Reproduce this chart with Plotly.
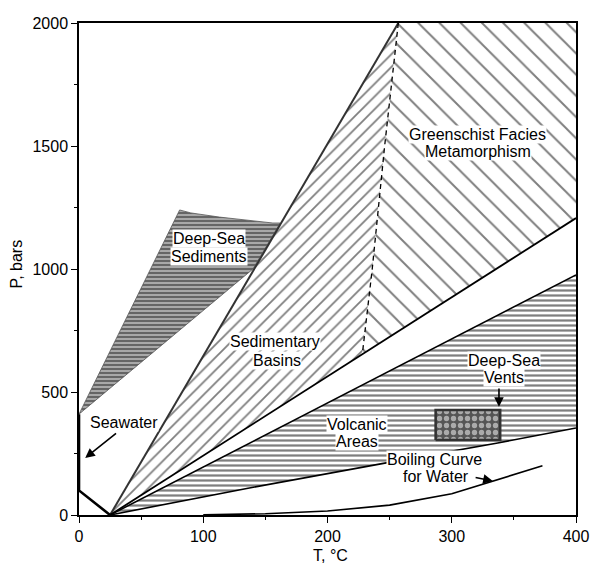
import plotly.graph_objects as go

# ---- data (T in degC, P in bars) ----
T_MAX, P_MAX = 400, 2000
x_ticks = [0, 100, 200, 300, 400]
y_ticks = [0, 500, 1000, 1500, 2000]

seawater_T = [0, 0, 25]
seawater_P = [410, 100, 0]

sed_left_T = [25, 257]
sed_left_P = [0, 2000]

sed_lower_T = [25, 400]
sed_lower_P = [0, 1207]

volc_upper_T = [25, 400]
volc_upper_P = [0, 976]

volc_lower_T = [25, 135, 245, 337, 400]
volc_lower_P = [0, 108, 210, 293, 354]

boil_T = [100, 150, 200, 250, 300, 350, 373]
boil_P = [1, 5, 16, 40, 86, 165, 200]

dashed_T = [257, 246, 236, 228]
dashed_P = [2000, 1500, 1000, 653]

sediments_T = [0, 81, 90, 113, 156, 162, 140]
sediments_P = [410, 1240, 1228, 1211, 1187, 1187, 1000]

vents_T = [287, 339]
vents_P = [305, 427]

labels = [
    ("Deep-Sea", 105, 1122), ("Sediments", 105, 1052),
    ("Greenschist Facies", 321, 1547), ("Metamorphism", 321, 1478),
    ("Sedimentary", 158, 704), ("Basins", 159, 630),
    ("Deep-Sea", 342, 630), ("Vents", 342, 557),
    ("Volcanic", 224, 367), ("Areas", 224, 297),
    ("Boiling Curve", 286, 224), ("for Water", 287, 155),
    ("Seawater", 36, 378),
]
# arrows: (tail T, tail P, tip T, tip P)
arrows = [
    (31, 337, 5, 232),
    (338, 520, 338, 440),
    (318, 154, 333, 138),
]

FONT = "Liberation Sans, Arial, Helvetica, sans-serif"

fig = go.Figure()

# deep-sea sediments (dark, horizontal hatch)
fig.add_trace(go.Scatter(
    x=sediments_T + [sediments_T[0]], y=sediments_P + [sediments_P[0]],
    fill="toself", mode="lines", line=dict(color="#555", width=0.8),
    fillpattern=dict(shape="-", fgcolor="#222", bgcolor="#a8a8a8", size=4, solidity=0.5),
    hoverinfo="skip", showlegend=False))

# sedimentary basins ("/" hatch)
sb_T = sed_left_T + dashed_T[1:] + [sed_lower_T[0]]
sb_P = sed_left_P + dashed_P[1:] + [sed_lower_P[0]]
fig.add_trace(go.Scatter(
    x=sb_T, y=sb_P, fill="toself", mode="none",
    fillpattern=dict(shape="/", fgcolor="black", bgcolor="white", size=9, solidity=0.2),
    hoverinfo="skip", showlegend=False))

# greenschist facies ("\" hatch)
gs_T = [dashed_T[0], T_MAX, T_MAX] + dashed_T[::-1]
gs_P = [P_MAX, P_MAX, sed_lower_P[1]] + dashed_P[::-1]
fig.add_trace(go.Scatter(
    x=gs_T, y=gs_P, fill="toself", mode="none",
    fillpattern=dict(shape="\\", fgcolor="black", bgcolor="white", size=15, solidity=0.13),
    hoverinfo="skip", showlegend=False))

# volcanic areas (horizontal hatch)
va_T = volc_upper_T + volc_lower_T[::-1]
va_P = volc_upper_P + volc_lower_P[::-1]
fig.add_trace(go.Scatter(
    x=va_T, y=va_P, fill="toself", mode="none",
    fillpattern=dict(shape="-", fgcolor="black", bgcolor="white", size=5, solidity=0.45),
    hoverinfo="skip", showlegend=False))

# boundary lines
def line(xs, ys, width=1.6, color="black", dash="solid"):
    fig.add_trace(go.Scatter(x=xs, y=ys, mode="lines",
                             line=dict(color=color, width=width, dash=dash),
                             hoverinfo="skip", showlegend=False))

line(sed_left_T, sed_left_P, width=2, color="#333")
line(sed_lower_T, sed_lower_P, width=1.8)
line(volc_upper_T, volc_upper_P, width=1.6)
line(volc_lower_T, volc_lower_P, width=1.6)
line(boil_T, boil_P, width=1.6)
line(dashed_T, dashed_P, width=1.3, dash="5px,4px")
line(seawater_T, seawater_P, width=2.6)

# deep-sea vents box
fig.add_trace(go.Scatter(
    x=[vents_T[0], vents_T[1], vents_T[1], vents_T[0], vents_T[0]],
    y=[vents_P[0], vents_P[0], vents_P[1], vents_P[1], vents_P[0]],
    fill="toself", mode="lines", line=dict(color="#333", width=2.5),
    fillpattern=dict(shape=".", fgcolor="white", bgcolor="#555", size=7, solidity=0.45),
    hoverinfo="skip", showlegend=False))

annotations = []
for text, tx, ty in labels:
    annotations.append(dict(x=tx, y=ty, xref="x", yref="y", text=text, showarrow=False,
                            font=dict(family=FONT, size=16, color="black"),
                            bgcolor="white", borderpad=0))
for t0, p0, t1, p1 in arrows:
    annotations.append(dict(x=t1, y=p1, ax=t0, ay=p0, xref="x", yref="y", axref="x", ayref="y",
                            text="", showarrow=True, arrowhead=2, arrowsize=1.2,
                            arrowwidth=1.6, arrowcolor="black"))
annotations.append(dict(x=-0.126, y=0.51, xref="paper", yref="paper", text="P, bars",
                        textangle=-90, showarrow=False, xanchor="center", yanchor="middle",
                        font=dict(family=FONT, size=16, color="black")))
annotations.append(dict(x=0.506, y=-0.083, xref="paper", yref="paper", text="T, °C",
                        showarrow=False, xanchor="center", yanchor="middle",
                        font=dict(family=FONT, size=16, color="black")))

fig.update_layout(
    width=601, height=566,
    margin=dict(l=79, r=14, t=23, b=51),
    paper_bgcolor="white", plot_bgcolor="white",
    annotations=annotations,
    font=dict(family=FONT, size=16, color="black"),
)
fig.update_xaxes(range=[0, T_MAX], tickvals=x_ticks, showgrid=False, zeroline=False,
                 showline=True, linecolor="black", linewidth=1.5, mirror=True,
                 ticks="outside", ticklen=6, tickwidth=1.3, tickcolor="black",
                 minor=dict(dtick=50, ticks="outside", ticklen=3, tickcolor="black"),
                 tickfont=dict(family=FONT, size=16))
fig.update_yaxes(range=[0, P_MAX], tickvals=y_ticks, showgrid=False, zeroline=False,
                 showline=True, linecolor="black", linewidth=1.5, mirror=True,
                 ticks="outside", ticklen=6, tickwidth=1.3, tickcolor="black",
                 minor=dict(dtick=250, ticks="outside", ticklen=3, tickcolor="black"),
                 tickfont=dict(family=FONT, size=16))

fig.write_html("out.html")
